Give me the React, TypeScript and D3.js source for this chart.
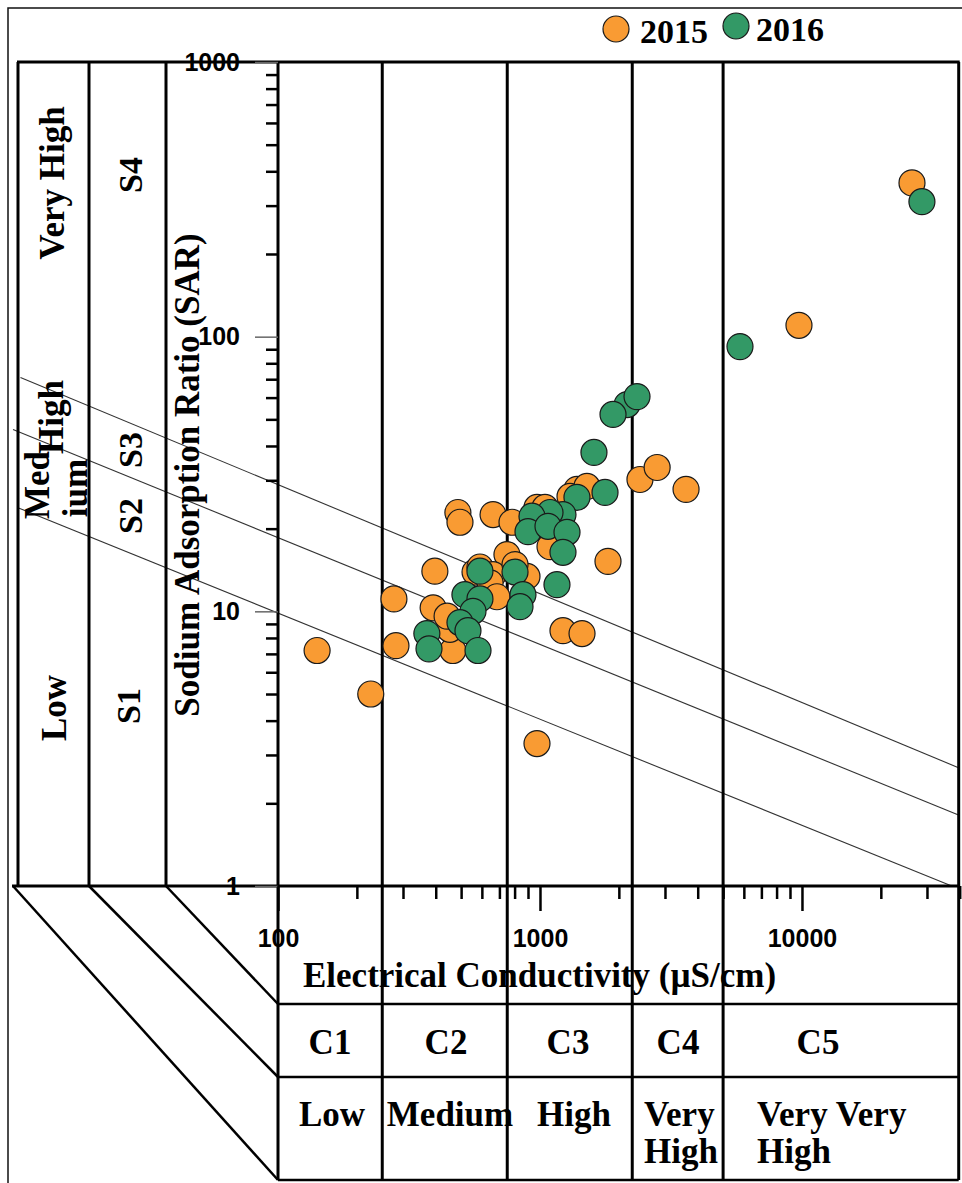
import * as d3 from "d3";
import { useEffect, useRef } from "react";

// 2015 samples: EC (µS/cm) and SAR
const ec2015 = [141, 226, 277, 282, 397, 391, 465, 453, 442, 486, 495, 662, 782, 748, 565, 590, 662, 645, 892, 685, 803, 974, 1045, 1000, 1092, 1384, 1302, 1511, 2408, 2800, 3610, 1818, 1224, 1447, 974, 9740, 26300];
const sar2015 = [7.2, 5.0, 11.1, 7.5, 14.0, 10.3, 7.2, 8.6, 9.6, 22.9, 21.1, 22.5, 21.1, 16.1, 13.9, 14.5, 13.6, 12.7, 13.4, 11.3, 14.8, 23.9, 23.9, 20.4, 17.2, 27.8, 26.2, 28.5, 30.2, 33.4, 27.8, 15.2, 8.5, 8.3, 3.3, 110, 363];

// 2016 samples
const ec2016 = [28700, 5800, 2150, 1900, 2346, 1607, 1771, 1384, 1224, 1092, 932, 900, 1073, 1268, 1224, 1161, 590, 803, 861, 839, 517, 590, 555, 495, 531, 370, 377, 580];
const sar2016 = [310, 92, 56.6, 52.1, 60.5, 37.9, 27.1, 26.0, 22.5, 22.9, 22.2, 19.5, 20.4, 19.4, 16.4, 12.5, 14.0, 13.9, 11.5, 10.4, 11.5, 11.1, 10.0, 9.1, 8.5, 8.3, 7.3, 7.2];

const years = ["2015", "2016"];
const yearColors = ["#F99B33", "#339966"];

const ecTickLabels = [100, 1000, 10000];
const sarTickLabels = [1, 10, 100, 1000];

// salinity class boundaries (µS/cm)
const ecBounds = [250, 750, 2250, 5000];
const ecClasses = ["C1", "C2", "C3", "C4", "C5"];
const ecHazard = [["Low"], ["Medium"], ["High"], ["Very", "High"], ["Very Very", "High"]];

// sodium hazard boundary lines, [EC, SAR] at each end
const sarLineStart = [[10.1, 23.9], [9.74, 45.9], [10.4, 71]];
const sarLineEnd = [[37300, 1], [39800, 1.81], [39800, 2.69]];

const sarClasses = ["S1", "S2", "S3", "S4"];
const sarHazard = ["Low", "Med", "ium", "High", "Very High"];

export default function App() {
  const svgRef = useRef<SVGSVGElement>(null);

  useEffect(() => {
    if (!svgRef.current) return;
    const svg = d3.select(svgRef.current);
    svg.selectAll("*").remove();

    const width = 962;
    const height = 1183;
    const plot = { left: 278, right: 959.7, top: 62, bottom: 886 };
    const cols = [18, 89, 166];
    const rows = [1004, 1077, 1180];
    const serif = "'Liberation Serif', 'Times New Roman', serif";
    const sans = "'Liberation Sans', Arial, sans-serif";

    svg.attr("width", width).attr("height", height);
    svg.append("rect").attr("width", width).attr("height", height).attr("fill", "#fff");

    const x = d3.scaleLog().domain([100, 40000]).range([plot.left, plot.right]);
    const y = d3.scaleLog().domain([1, 1000]).range([plot.bottom, plot.top]);

    // outer frame
    svg.append("path")
      .attr("d", `M8,${height} L8,8 L${width},8`)
      .attr("fill", "none").attr("stroke", "#111").attr("stroke-width", 1.5);

    // sodium hazard lines
    const line = d3.line<number[]>().x((d) => x(d[0])).y((d) => y(d[1]));
    svg.append("g").selectAll("path")
      .data(sarLineStart.map((s, i) => [s, sarLineEnd[i]]))
      .enter().append("path")
      .attr("d", (d) => line(d))
      .attr("fill", "none").attr("stroke", "#333").attr("stroke-width", 1.1);

    const frame = svg.append("g").attr("stroke", "#000").attr("stroke-width", 3).attr("fill", "none");
    // verticals of EC classes, running through the table
    [plot.left, ...ecBounds.map((b) => x(b)), plot.right - 1].forEach((px) => {
      frame.append("line").attr("x1", px).attr("x2", px).attr("y1", plot.top).attr("y2", rows[2]);
    });
    // left columns
    cols.forEach((px) => {
      frame.append("line").attr("x1", px).attr("x2", px).attr("y1", plot.top).attr("y2", plot.bottom);
    });
    frame.append("line").attr("x1", cols[0] - 1).attr("x2", plot.right).attr("y1", plot.top).attr("y2", plot.top);
    frame.append("line").attr("x1", 12).attr("x2", plot.right).attr("y1", plot.bottom).attr("y2", plot.bottom);
    rows.forEach((py) => {
      frame.append("line").attr("x1", plot.left).attr("x2", plot.right - 1).attr("y1", py).attr("y2", py)
        .attr("stroke-width", 2.5);
    });
    // diagonals from left columns to table rows
    [166, 89, 13].forEach((px, i) => {
      frame.append("line").attr("x1", px).attr("y1", plot.bottom).attr("x2", plot.left).attr("y2", rows[i])
        .attr("stroke-width", 2.5);
    });

    // y axis ticks
    const yMinor = y.ticks().filter((t) => !sarTickLabels.includes(t));
    const yMinorAxis = svg.append("g").attr("transform", `translate(${plot.left},0)`)
      .call(d3.axisLeft(y).tickValues(yMinor).tickSize(12).tickFormat(() => ""));
    yMinorAxis.select(".domain").remove();
    yMinorAxis.selectAll(".tick line").attr("stroke", "#000").attr("stroke-width", 2.5);

    const yMajorAxis = svg.append("g").attr("transform", `translate(${plot.left},0)`)
      .call(d3.axisLeft(y).tickValues(sarTickLabels).tickSize(23).tickPadding(15)
        .tickFormat((d) => String(d)));
    yMajorAxis.select(".domain").remove();
    yMajorAxis.selectAll(".tick line").attr("stroke", "#666").attr("stroke-width", 1.5);
    yMajorAxis.selectAll(".tick text")
      .attr("fill", "#000").attr("font-size", 25).attr("font-weight", "bold").attr("font-family", sans);

    // x axis ticks
    const xMinor = x.ticks().filter((t) => !ecTickLabels.includes(t));
    const xMinorAxis = svg.append("g").attr("transform", `translate(0,${plot.bottom})`)
      .call(d3.axisBottom(x).tickValues(xMinor).tickSize(13).tickFormat(() => ""));
    xMinorAxis.select(".domain").remove();
    xMinorAxis.selectAll(".tick line").attr("stroke", "#000").attr("stroke-width", 2.5);

    const xMajorAxis = svg.append("g").attr("transform", `translate(0,${plot.bottom})`)
      .call(d3.axisBottom(x).tickValues(ecTickLabels).tickSize(25).tickPadding(18)
        .tickFormat((d) => String(d)));
    xMajorAxis.select(".domain").remove();
    xMajorAxis.selectAll(".tick line").attr("stroke", "#000").attr("stroke-width", 2.5);
    xMajorAxis.selectAll(".tick text")
      .attr("fill", "#000").attr("font-size", 25).attr("font-weight", "bold").attr("font-family", sans);

    // points
    const series = [
      ec2015.map((e, i) => [e, sar2015[i]]),
      ec2016.map((e, i) => [e, sar2016[i]]),
    ];
    series.forEach((pts, si) => {
      svg.append("g").selectAll("circle")
        .data(pts).enter().append("circle")
        .attr("cx", (d) => x(d[0]))
        .attr("cy", (d) => y(d[1]))
        .attr("r", 13)
        .attr("fill", yearColors[si])
        .attr("stroke", "#1a1a1a")
        .attr("stroke-width", 1.2);
    });

    // legend
    const legendPos = [{ cx: 616, cy: 29, tx: 640, ty: 43 }, { cx: 736, cy: 26, tx: 756, ty: 41 }];
    years.forEach((yr, i) => {
      const p = legendPos[i];
      svg.append("circle").attr("cx", p.cx).attr("cy", p.cy).attr("r", 13)
        .attr("fill", yearColors[i]).attr("stroke", "#1a1a1a").attr("stroke-width", 1.2);
      svg.append("text").attr("x", p.tx).attr("y", p.ty).text(yr)
        .attr("font-family", serif).attr("font-weight", "bold").attr("font-size", 34);
    });

    const txt = (s: string, tx: number, ty: number, opts: { rotate?: boolean; anchor?: string; size?: number } = {}) =>
      svg.append("text")
        .attr("transform", `translate(${tx},${ty})${opts.rotate ? " rotate(-90)" : ""}`)
        .attr("text-anchor", opts.anchor ?? "middle")
        .attr("font-family", serif).attr("font-weight", "bold")
        .attr("font-size", opts.size ?? 35)
        .text(s);

    // y title
    txt("Sodium Adsorption Ratio (SAR)", 199, 475, { rotate: true, size: 35 });

    // sodium classes
    const sarClassPos = [[140, 706], [142, 516], [142, 450], [142, 175]];
    sarClasses.forEach((s, i) => txt(s, sarClassPos[i][0], sarClassPos[i][1], { rotate: true, size: 34 }));
    const sarHazardPos = [[66, 708], [49, 485], [87, 488], [63, 417], [64, 183]];
    sarHazard.forEach((s, i) => txt(s, sarHazardPos[i][0], sarHazardPos[i][1], { rotate: true }));

    // table
    txt("Electrical Conductivity (µS/cm)", 303, 987, { anchor: "start" });
    const colCenters = [330, 446, 568, 678, 818];
    ecClasses.forEach((c, i) => txt(c, colCenters[i], 1054));
    const hazardPos = [
      { x: 332, a: "middle" }, { x: 450, a: "middle" }, { x: 574, a: "middle" },
      { x: 644, a: "start" }, { x: 757, a: "start" },
    ];
    ecHazard.forEach((lines, i) => {
      lines.forEach((s, j) => txt(s, hazardPos[i].x, 1126 + j * 37, { anchor: hazardPos[i].a }));
    });
  }, []);

  return <svg ref={svgRef} style={{ position: "absolute", left: 0, top: 0, display: "block" }}></svg>;
}
